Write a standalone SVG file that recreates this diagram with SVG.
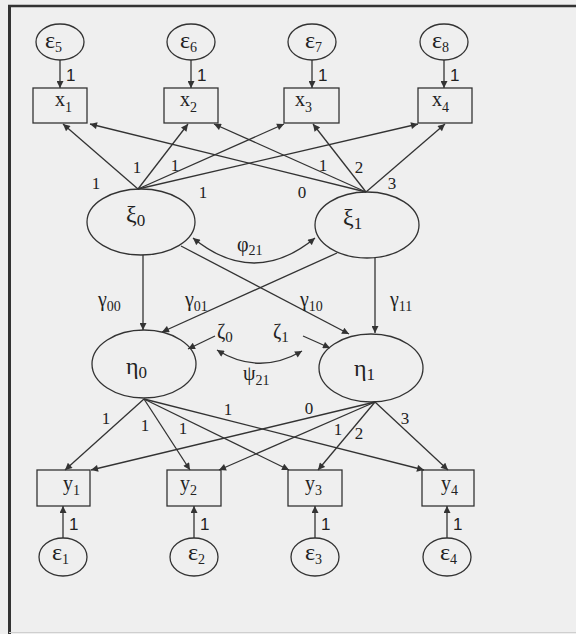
<svg xmlns="http://www.w3.org/2000/svg" width="576" height="634" viewBox="0 0 576 634">
<style>
.bg{fill:#efefef}
.shape{fill:none;stroke:#333;stroke-width:1.3}
.c{fill:none;stroke:#333;stroke-width:1.3}
.a{marker-end:url(#ah)}
.d{marker-start:url(#ah);marker-end:url(#ah)}
.g{font-family:"Liberation Serif","Times New Roman",serif;fill:#222}
.s{font-family:"Liberation Sans",Arial,sans-serif;fill:#222;font-size:17px}
.n{font-family:"Liberation Serif","Times New Roman",serif;fill:#222;font-size:17px;text-anchor:middle}
</style>
<defs>
<marker id="ah" viewBox="0 0 10 10" refX="10" refY="5" markerWidth="9" markerHeight="7" orient="auto-start-reverse" markerUnits="userSpaceOnUse"><path d="M0,0 L10,5 L0,10 z" fill="#333"/></marker>
</defs>
<rect class="bg" x="0" y="0" width="576" height="634"/>
<g id="frame">
<line x1="8" y1="6" x2="576" y2="6" stroke="#333" stroke-width="2.5"/>
<line x1="9.5" y1="5" x2="9.5" y2="634" stroke="#333" stroke-width="3"/>
<line x1="9" y1="632.5" x2="576" y2="632.5" stroke="#cfcfcf" stroke-width="1"/>
</g>
<g id="connectors">
<line class="c a" x1="60" y1="60" x2="60" y2="88"/>
<line class="c a" x1="191" y1="60" x2="191" y2="88"/>
<line class="c a" x1="312" y1="60" x2="312" y2="88"/>
<line class="c a" x1="444" y1="60" x2="444" y2="88"/>
<line class="c a" x1="138" y1="189" x2="63" y2="124"/>
<line class="c a" x1="138" y1="189" x2="188" y2="124"/>
<line class="c a" x1="138" y1="189" x2="284" y2="124"/>
<line class="c a" x1="138" y1="189" x2="418" y2="124"/>
<line class="c a" x1="366" y1="192" x2="90" y2="124"/>
<line class="c a" x1="366" y1="192" x2="214" y2="124"/>
<line class="c a" x1="366" y1="192" x2="313" y2="124"/>
<line class="c a" x1="366" y1="192" x2="445" y2="124"/>
<path class="c d" d="M193,238 Q254,288 315,238"/>
<line class="c a" x1="143" y1="255" x2="143" y2="330"/>
<line class="c a" x1="375" y1="258" x2="375" y2="333"/>
<line class="c a" x1="337" y1="253" x2="162" y2="332"/>
<line class="c a" x1="181" y1="246" x2="349" y2="334"/>
<line class="c a" x1="215" y1="336" x2="188" y2="349"/>
<line class="c a" x1="303" y1="336" x2="330" y2="348"/>
<path class="c d" d="M217,350 Q259,376 302,351"/>
<line class="c a" x1="144" y1="399" x2="65" y2="470"/>
<line class="c a" x1="144" y1="399" x2="190" y2="470"/>
<line class="c a" x1="144" y1="399" x2="289" y2="470"/>
<line class="c a" x1="144" y1="399" x2="424" y2="470"/>
<line class="c a" x1="375" y1="402" x2="91" y2="470"/>
<line class="c a" x1="375" y1="402" x2="219" y2="470"/>
<line class="c a" x1="375" y1="402" x2="318" y2="470"/>
<line class="c a" x1="375" y1="402" x2="448" y2="470"/>
<line class="c a" x1="63" y1="538" x2="63" y2="506"/>
<line class="c a" x1="194" y1="538" x2="194" y2="506"/>
<line class="c a" x1="315" y1="538" x2="315" y2="506"/>
<line class="c a" x1="447" y1="538" x2="447" y2="506"/>
</g>
<g id="conn-labels">
<text class="s" x="66" y="81">1</text>
<text class="s" x="197" y="81">1</text>
<text class="s" x="318" y="81">1</text>
<text class="s" x="450" y="81">1</text>
<text class="n" x="96" y="189">1</text>
<text class="n" x="137" y="173">1</text>
<text class="n" x="175" y="171">1</text>
<text class="n" x="203" y="198">1</text>
<text class="n" x="302" y="198">0</text>
<text class="n" x="323" y="171">1</text>
<text class="n" x="359" y="173">2</text>
<text class="n" x="392" y="189">3</text>
<text class="g" x="237" y="251" font-size="20">φ<tspan font-size="14" dy="4">21</tspan></text>
<text class="g" x="98" y="306" font-size="20">γ<tspan font-size="14" dy="5">00</tspan></text>
<text class="g" x="185" y="306" font-size="20">γ<tspan font-size="14" dy="5">01</tspan></text>
<text class="g" x="300" y="306" font-size="20">γ<tspan font-size="14" dy="5">10</tspan></text>
<text class="g" x="390" y="306" font-size="20">γ<tspan font-size="14" dy="5">11</tspan></text>
<text class="g" x="217" y="338" font-size="20">ζ<tspan font-size="15" dy="4">0</tspan></text>
<text class="g" x="273" y="338" font-size="20">ζ<tspan font-size="15" dy="4">1</tspan></text>
<text class="g" x="243" y="380" font-size="20">ψ<tspan font-size="14" dy="5">21</tspan></text>
<text class="n" x="106" y="424">1</text>
<text class="n" x="145" y="431">1</text>
<text class="n" x="183" y="434">1</text>
<text class="n" x="228" y="415">1</text>
<text class="n" x="309" y="414">0</text>
<text class="n" x="338" y="435">1</text>
<text class="n" x="359" y="439">2</text>
<text class="n" x="405" y="424">3</text>
<text class="s" x="69" y="530">1</text>
<text class="s" x="200" y="530">1</text>
<text class="s" x="321" y="530">1</text>
<text class="s" x="453" y="530">1</text>
</g>
<g id="e5"><ellipse class="shape" cx="60" cy="42" rx="24" ry="18"/><text class="g" x="45" y="48" font-size="24">ε<tspan font-size="14" dy="4">5</tspan></text></g>
<g id="e6"><ellipse class="shape" cx="191" cy="42" rx="24" ry="18"/><text class="g" x="180" y="48" font-size="24">ε<tspan font-size="14" dy="4">6</tspan></text></g>
<g id="e7"><ellipse class="shape" cx="312" cy="42" rx="24" ry="18"/><text class="g" x="305" y="48" font-size="24">ε<tspan font-size="14" dy="4">7</tspan></text></g>
<g id="e8"><ellipse class="shape" cx="444" cy="42" rx="24" ry="18"/><text class="g" x="432" y="48" font-size="24">ε<tspan font-size="14" dy="4">8</tspan></text></g>
<g id="x1"><rect class="shape" x="33" y="88" width="54" height="35"/><text class="g" x="55" y="106" font-size="20">x<tspan font-size="14" dy="6">1</tspan></text></g>
<g id="x2"><rect class="shape" x="164" y="88" width="54" height="35"/><text class="g" x="180" y="106" font-size="20">x<tspan font-size="14" dy="6">2</tspan></text></g>
<g id="x3"><rect class="shape" x="284" y="88" width="55" height="35"/><text class="g" x="295" y="106" font-size="20">x<tspan font-size="14" dy="6">3</tspan></text></g>
<g id="x4"><rect class="shape" x="418" y="88" width="54" height="35"/><text class="g" x="432" y="106" font-size="20">x<tspan font-size="14" dy="6">4</tspan></text></g>
<g id="xi0"><ellipse class="shape" cx="141" cy="222" rx="54" ry="33"/><text class="g" x="126" y="222" font-size="24">ξ<tspan font-size="17" dy="4">0</tspan></text></g>
<g id="xi1"><ellipse class="shape" cx="367" cy="225" rx="52" ry="33"/><text class="g" x="343" y="225" font-size="24">ξ<tspan font-size="17" dy="4">1</tspan></text></g>
<g id="eta0"><ellipse class="shape" cx="144" cy="364" rx="52" ry="34"/><text class="g" x="126" y="374" font-size="24">η<tspan font-size="17" dy="4">0</tspan></text></g>
<g id="eta1"><ellipse class="shape" cx="371" cy="368" rx="52" ry="34"/><text class="g" x="354" y="376" font-size="24">η<tspan font-size="17" dy="4">1</tspan></text></g>
<g id="y1"><rect class="shape" x="37" y="470" width="53" height="36"/><text class="g" x="63" y="490" font-size="20">y<tspan font-size="14" dy="5">1</tspan></text></g>
<g id="y2"><rect class="shape" x="167" y="470" width="54" height="36"/><text class="g" x="180" y="490" font-size="20">y<tspan font-size="14" dy="5">2</tspan></text></g>
<g id="y3"><rect class="shape" x="288" y="470" width="54" height="36"/><text class="g" x="305" y="490" font-size="20">y<tspan font-size="14" dy="5">3</tspan></text></g>
<g id="y4"><rect class="shape" x="422" y="470" width="52" height="36"/><text class="g" x="441" y="490" font-size="20">y<tspan font-size="14" dy="5">4</tspan></text></g>
<g id="e1"><ellipse class="shape" cx="63" cy="557" rx="24" ry="19"/><text class="g" x="52" y="560" font-size="24">ε<tspan font-size="14" dy="4">1</tspan></text></g>
<g id="e2"><ellipse class="shape" cx="194" cy="557" rx="24" ry="19"/><text class="g" x="188" y="560" font-size="24">ε<tspan font-size="14" dy="4">2</tspan></text></g>
<g id="e3"><ellipse class="shape" cx="315" cy="557" rx="24" ry="19"/><text class="g" x="305" y="560" font-size="24">ε<tspan font-size="14" dy="4">3</tspan></text></g>
<g id="e4"><ellipse class="shape" cx="447" cy="557" rx="24" ry="19"/><text class="g" x="440" y="560" font-size="24">ε<tspan font-size="14" dy="4">4</tspan></text></g>
</svg>
